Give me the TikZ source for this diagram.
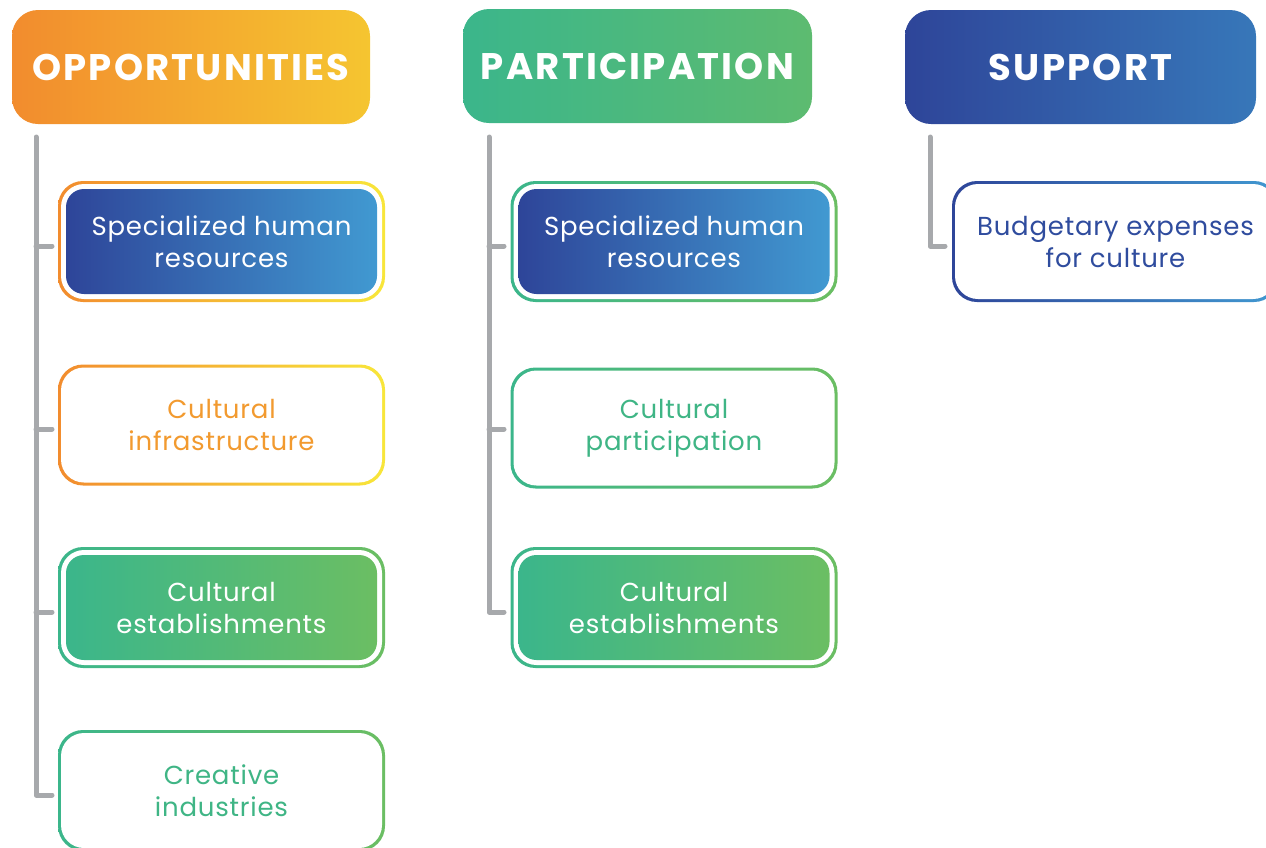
\documentclass[tikz,border=0pt]{standalone}
\usepackage{fontspec}
\setmainfont{Poppins}
\definecolor{orA}{HTML}{F28C2E}
\definecolor{orB}{HTML}{F5C530}
\definecolor{ylB}{HTML}{F8E63A}
\definecolor{orT}{HTML}{F29A2F}
\definecolor{gnA}{HTML}{3BB68B}
\definecolor{gnB}{HTML}{5DBB70}
\definecolor{gnC}{HTML}{6BBE63}
\definecolor{gnT}{HTML}{3FB585}
\definecolor{blA}{HTML}{2E4599}
\definecolor{blB}{HTML}{3777B9}
\definecolor{blC}{HTML}{4199D1}
\definecolor{blT}{HTML}{2F4C9E}
\definecolor{trunkgray}{HTML}{A7A9AC}
\newcommand{\lbl}{\fontsize{26}{32}\selectfont\addfontfeatures{LetterSpace=3}}
\newcommand{\hdr}{\fontsize{37}{40}\selectfont\bfseries\addfontfeatures{LetterSpace=6}}
\begin{document}
\begin{tikzpicture}[x=1pt,y=-1pt,
  head/.style={rounded corners=26pt, minimum height=114pt,
    inner sep=0pt, text=white, font=\hdr},
  outer/.style={rounded corners=25pt, minimum width=327pt, minimum height=121pt, inner sep=0pt},
  hollow/.style={rounded corners=23pt, minimum width=321pt, minimum height=115pt,
    inner sep=0pt, fill=white, align=center, font=\lbl},
  solid/.style={rounded corners=18pt, minimum width=311pt, minimum height=105pt,
    inner sep=0pt, text=white, align=center, font=\lbl},
  trunk/.style={draw=trunkgray, line width=5pt, line cap=round, line join=round}]
\useasboundingbox (0,0) rectangle (1266,847);
\clip (0,0) rectangle (1266,847);

% column headers
\node[head, minimum width=358pt, left color=orA, right color=orB] (h1) at (191,67) {OPPORTUNITIES};
\node[head, minimum width=349pt, left color=gnA, right color=gnB] (h2) at (637.5,66) {PARTICIPATION};
\node[head, minimum width=351pt, left color=blA, right color=blB] (h3) at (1080.5,67) {SUPPORT};

% --- Opportunities column ---
\node[outer, left color=orA, right color=ylB] (o1) at (221.5,241.5) {};
\node[hollow] at (o1) {};
\node[solid, left color=blA, right color=blC] (o1t) at (o1) {Specialized human\\resources};

\node[outer, left color=orA, right color=ylB] (o2) at (221.5,425) {};
\node[hollow, text=orT] (o2t) at (o2) {Cultural\\infrastructure};

\node[outer, left color=gnA, right color=gnC] (o3) at (221.5,607.5) {};
\node[hollow] at (o3) {};
\node[solid, left color=gnA, right color=gnC] (o3t) at (o3) {Cultural\\establishments};

\node[outer, left color=gnA, right color=gnC] (o4) at (221.5,790.5) {};
\node[hollow, text=gnT] (o4t) at (o4) {Creative\\industries};

% --- Participation column ---
\node[outer, left color=gnA, right color=gnC] (p1) at (674,241.5) {};
\node[hollow] at (p1) {};
\node[solid, left color=blA, right color=blC] (p1t) at (p1) {Specialized human\\resources};

\node[outer, left color=gnA, right color=gnC] (p2) at (674,428) {};
\node[hollow, text=gnT] (p2t) at (p2) {Cultural\\participation};

\node[outer, left color=gnA, right color=gnC] (p3) at (674,607.5) {};
\node[hollow] at (p3) {};
\node[solid, left color=gnA, right color=gnC] (p3t) at (p3) {Cultural\\establishments};

% --- Support column ---
\node[outer, left color=blA, right color=blC] (s1) at (1115.5,241.5) {};
\node[hollow, text=blT] (s1t) at (s1) {Budgetary expenses\\for culture};

% connector trunks and ticks
\coordinate (c1top) at (36,137);
\coordinate (c1a) at (36,246);
\coordinate (c1b) at (36,429);
\coordinate (c1c) at (36,612);
\coordinate (c1end) at (52,795);
\draw[trunk] (c1top) |- (c1end);
\draw[trunk] (c1a) -- ++(16,0);
\draw[trunk] (c1b) -- ++(16,0);
\draw[trunk] (c1c) -- ++(16,0);

\coordinate (c2top) at (489,137);
\coordinate (c2a) at (489,246);
\coordinate (c2b) at (489,429);
\coordinate (c2end) at (504,612);
\draw[trunk] (c2top) |- (c2end);
\draw[trunk] (c2a) -- ++(15,0);
\draw[trunk] (c2b) -- ++(15,0);

\coordinate (c3top) at (930,137);
\coordinate (c3end) at (945,246);
\draw[trunk] (c3top) |- (c3end);
\end{tikzpicture}
\end{document}
